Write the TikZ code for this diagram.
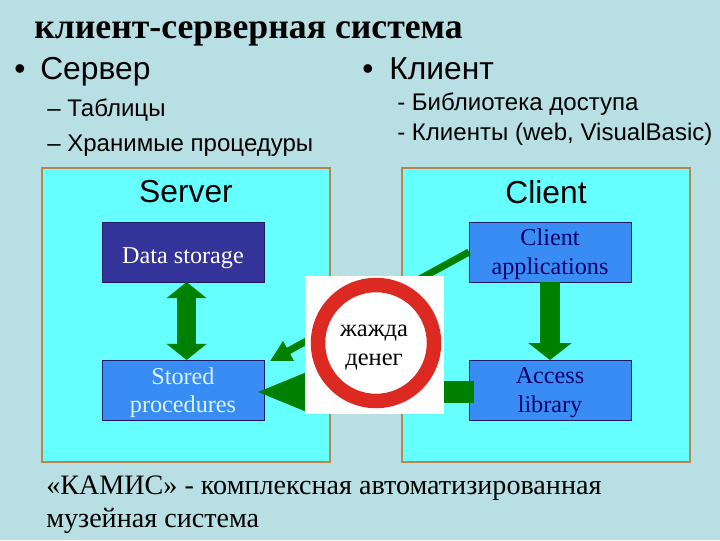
\documentclass[tikz,border=0pt]{standalone}
\usepackage{fontspec}
\setmainfont{Liberation Serif}
\newfontfamily\arialfont{Liberation Sans}
\usetikzlibrary{arrows.meta, positioning}

\definecolor{slidebg}{HTML}{B8DFE3}
\definecolor{panelfill}{HTML}{66FFFF}
\definecolor{panelline}{HTML}{B8864B}
\definecolor{darkbox}{HTML}{333399}
\definecolor{lightbox}{HTML}{3A8CF5}
\definecolor{boxline}{HTML}{1A1A66}
\definecolor{flowgreen}{HTML}{008000}
\definecolor{signred}{HTML}{DC2A22}
\definecolor{navytext}{HTML}{000066}

\begin{document}
\begin{tikzpicture}[
    x=0.025cm, y=-0.025cm,
    node distance=1.95cm,
    panel/.style={draw=panelline, fill=panelfill, line width=1.4pt, minimum width=7.2cm, minimum height=7.35cm, outer sep=0pt, inner sep=0pt},
    boxbase/.style={draw=boxline, line width=0.5pt, minimum width=4.05cm, minimum height=1.5cm, outer sep=0pt, inner sep=0pt, align=center, text depth=0pt, execute at begin node={\rule{0pt}{16pt}}, font=\fontsize{17.2}{20.5}\selectfont},
    darkboxn/.style={boxbase, fill=darkbox, text=white},
    lightboxn/.style={boxbase, fill=lightbox, text=navytext},
    heading/.style={font=\arialfont\fontsize{22.6}{26}\selectfont, inner sep=0pt},
    bulletitem/.style={font=\arialfont\fontsize{22.6}{26}\selectfont, anchor=base west, inner sep=0pt},
    subitem/.style={font=\arialfont\fontsize{17.1}{20}\selectfont, anchor=base west, inner sep=0pt},
    footer/.style={font=\fontsize{20}{24}\selectfont, anchor=base west, inner sep=0pt},
    bigflow/.style={draw=flowgreen, line width=15.5pt},
    thinflow/.style={draw=flowgreen, line width=5pt, -{Triangle[length=15pt, width=15pt]}}
]

% background
\fill[slidebg] (0,0) rectangle (720,540);

% title and lists
\node[font=\bfseries\fontsize{25.4}{30}\selectfont, anchor=base west, inner sep=0pt] (title) at (34,38) {клиент-серверная система};
\node[bulletitem] (bserver) at (14,79) {•};
\node[bulletitem] (server) at (40,79) {Сервер};
\node[bulletitem] (bclient) at (362,79) {•};
\node[bulletitem] (client) at (389,79) {Клиент};
\node[subitem] (tables) at (47,116) {– Таблицы};
\node[subitem] (procs) at (47,151) {– Хранимые процедуры};
\node[subitem] (lib) at (397,110) {- Библиотека доступа};
\node[subitem] (clients) at (397,140) {- Клиенты (web, VisualBasic)};

% panels
\node[panel] (serverpanel) at (186,315) {};
\node[panel] (clientpanel) at (546,315) {};
\node[heading] (servername) at (186,192) {Server};
\node[heading] (clientname) at (546,192) {Client};

% boxes
\node[darkboxn] (data) at (183,252) {Data storage};
\node[lightboxn, text=white!85!cyan] (stored) [below=of data] {Stored\\procedures};
\node[lightboxn] (apps) at (550,252) {Client\\applications};
\node[lightboxn] (access) [below=of apps] {Access\\library};

% arrow ends
\coordinate (accessout) at (474,392);
\coordinate (storedin) at (255,392);
\coordinate (storedtop) at (270,361);

% arrows
\draw[bigflow, line width=13.5pt, {Triangle[length=11.5pt, width=28pt]}-{Triangle[length=11.5pt, width=28pt]}] ([xshift=0.09cm]data.south) -- ([xshift=0.09cm]stored.north);
\draw[bigflow, line width=14pt, -{Triangle[length=12pt, width=30pt]}] (apps) -- (access);
\draw[thinflow] (apps.west) -- (storedtop);
\draw[bigflow, -{Triangle[length=38pt, width=26pt]}] (accessout) -- (storedin);

% sign
\node[fill=white, minimum size=3.47cm, inner sep=0pt] (sign) at (374.5,345) {};
\draw[signred, line width=10.3pt] (376,343) circle (58);
\node[align=center, inner sep=0pt, font=\fontsize{17.4}{20.5}\selectfont] (signtext) at (374,348) {жажда\\денег};

% footer
\node[footer] (foot1) at (46,494) {«КАМИС» - комплексная автоматизированная};
\node[footer] (foot2) at (46,527) {музейная система};

\end{tikzpicture}
\end{document}
